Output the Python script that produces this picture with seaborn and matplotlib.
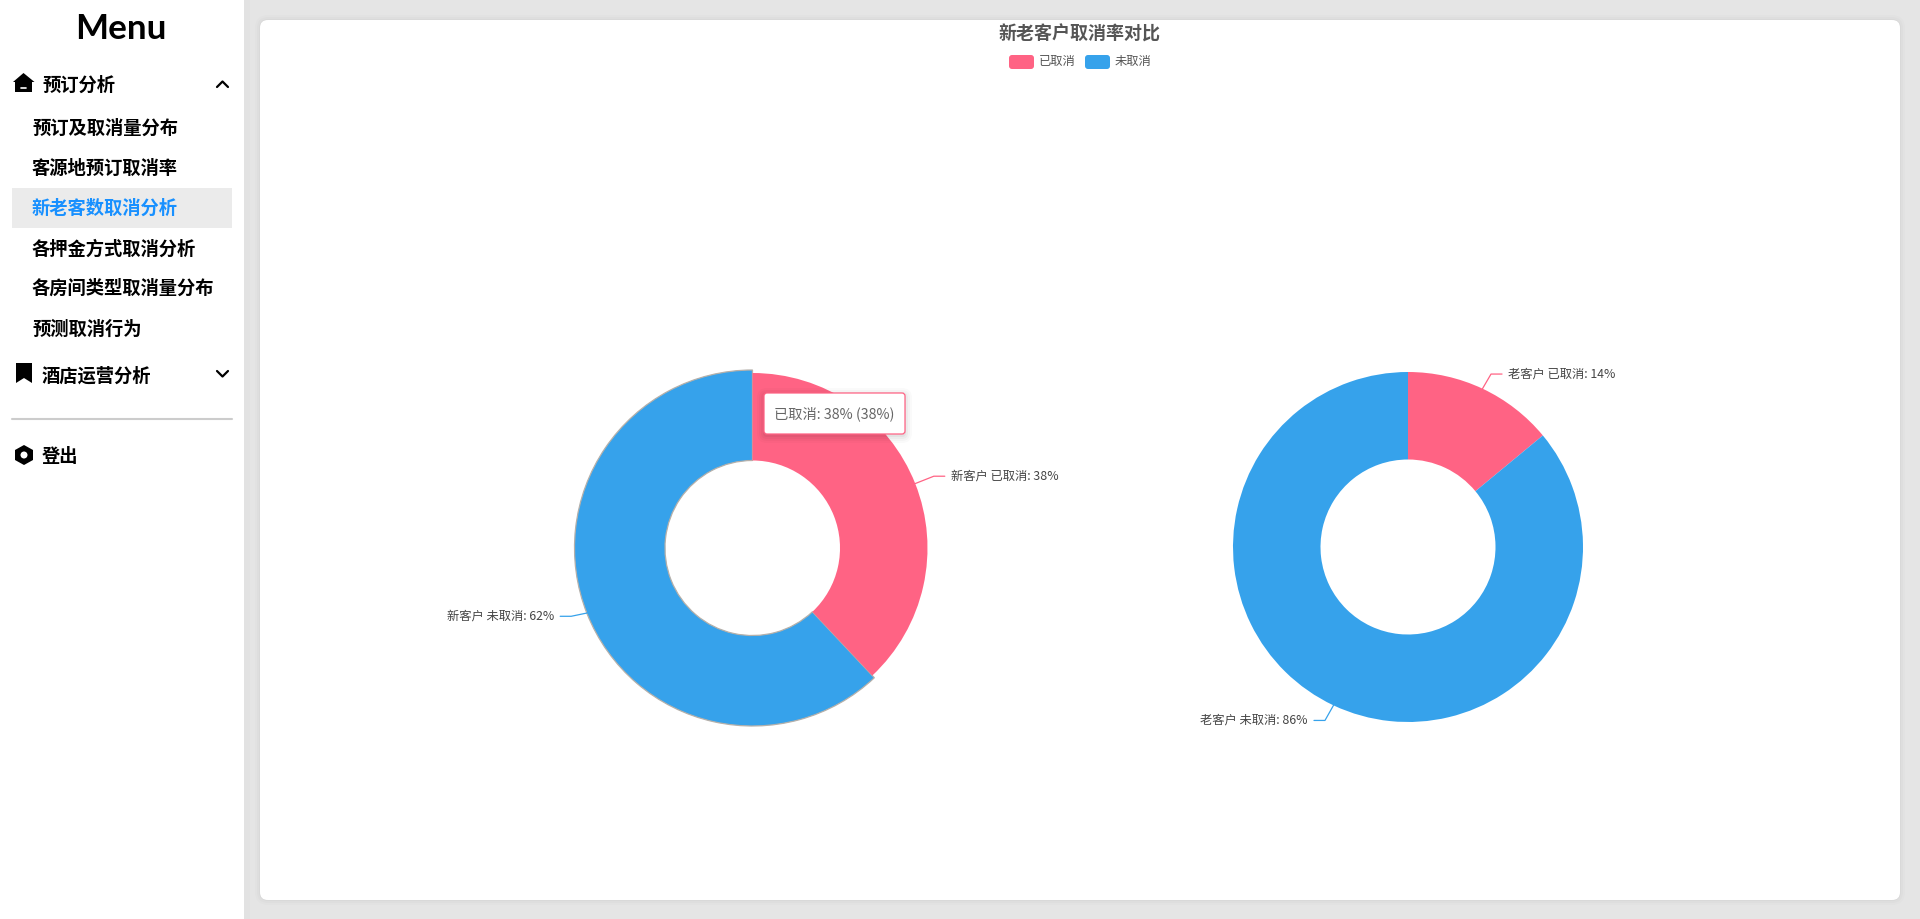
import numpy as np
import pandas as pd
import matplotlib
matplotlib.use("Agg")
import matplotlib.pyplot as plt
import seaborn as sns
from matplotlib.patches import FancyBboxPatch, Polygon, Rectangle, Circle

# 数据
statuses = ["已取消", "未取消"]
new_customer = [38, 62]
old_customer = [14, 86]
groups = ["新客户", "老客户"]
chart_title = "新老客户取消率对比"
tooltip_text = "已取消: 38% (38%)"
menu_title = "Menu"
sub_items = ["预订及取消量分布", "客源地预订取消率", "新老客数取消分析",
             "各押金方式取消分析", "各房间类型取消量分布", "预测取消行为"]
top_items = ["预订分析", "酒店运营分析", "登出"]

sns.set_theme(style="white")
plt.rcParams['font.family'] = ['Noto Sans CJK SC', 'DejaVu Sans']
palette = sns.color_palette(["#ff6384", "#36a2eb"])

W, H = 1920, 919
PX = 0.72  # 1px 对应的字号 (dpi=100)
fig = plt.figure(figsize=(W / 100, H / 100), dpi=100, facecolor="#e5e5e5")

# 背景层：像素坐标
bg = fig.add_axes([0, 0, 1, 1], zorder=0)
bg.set_xlim(0, W)
bg.set_ylim(H, 0)
bg.axis("off")

bg.add_patch(Rectangle((0, 0), 244, H, fc="white", ec="none"))
bg.add_patch(Rectangle((244, 0), 6, H, fc="#e2e2e2", ec="none"))
for grow, a in [(5, 0.012), (3, 0.015), (1, 0.02)]:
    bg.add_patch(FancyBboxPatch((260 - grow, 20 - grow), 1640 + 2 * grow, 880 + 2 * grow,
                                boxstyle=f"round,pad=0,rounding_size={8 + grow}",
                                fc="black", ec="none", alpha=a))
bg.add_patch(FancyBboxPatch((260, 20), 1640, 880, boxstyle="round,pad=0,rounding_size=8",
                            fc="white", ec="none"))

# 侧边栏
bg.text(121, 29, menu_title, family="Lato", weight="bold", fontsize=35 * PX,
        color="black", ha="center", va="center")
bg.add_patch(Rectangle((12, 188), 220, 40, fc="#ebebeb", ec="none"))
sub_y = [128, 168, 208, 249, 288, 329]
for i, (label, y) in enumerate(zip(sub_items, sub_y)):
    bg.text(32, y, label, fontsize=18.3 * PX, weight="bold", va="center",
            color="#1890ff" if i == 2 else "black")
for label, y in zip(top_items, [85, 376, 457]):
    bg.text(42, y, label, fontsize=18.3 * PX, weight="bold", va="center", color="black")
bg.plot([12, 232], [419, 419], color="#cccccc", lw=1.5)

# 图标
bg.add_patch(Polygon([(23.5, 73), (34.5, 82), (32, 82), (32, 92), (15, 92), (15, 82), (13, 82)],
                     fc="black", ec="none"))
bg.plot([21, 26], [87.5, 87.5], color="white", lw=1.2)
bg.add_patch(Polygon([(16, 363), (32, 363), (32, 383), (24, 378), (16, 383)], fc="black", ec="none"))
bg.add_patch(Polygon([(24, 445), (33, 450), (33, 460), (24, 465), (15, 460), (15, 450)],
                     fc="black", ec="none"))
bg.add_patch(Circle((24, 455), 3.5, fc="white", ec="none"))
bg.plot([217, 222.5, 228], [87, 81.5, 87], color="black", lw=1.6)
bg.plot([217, 222.5, 228], [371, 376.5, 371], color="black", lw=1.6)

# 标题与图例
bg.text(1080, 34, chart_title, fontsize=18 * PX, weight="bold", color="#555555",
        ha="center", va="center")
for x0, label, c in zip([1009, 1085], statuses, palette):
    bg.add_patch(FancyBboxPatch((x0, 55), 25, 14, boxstyle="round,pad=0,rounding_size=3",
                                fc=c, ec="none"))
    bg.text(x0 + 30, 61.5, label, fontsize=12.3 * PX, color="#555555", va="center")


def donut(cx, cy, values, group, nudges, hover=False):
    R, r = 175.0, 87.5
    # 每个坐标轴单位 = R 像素
    ax = fig.add_axes([(cx - 1.1 * R) / W, 1 - (cy + 1.1 * R) / H, 2.2 * R / W, 2.2 * R / H], zorder=1)
    wedges, _ = ax.pie(values, colors=palette, startangle=90, counterclock=False,
                       radius=1, wedgeprops=dict(width=0.5, linewidth=0))
    ax.set_xlim(-1.1, 1.1)
    ax.set_ylim(-1.1, 1.1)
    if hover:
        # 鼠标悬停的扇区略大，并带阴影边
        wedges[1].set_radius(178 / R)
        wedges[1].set_width((178 - r) / R)
        wedges[1].set_edgecolor("#b5b0aa")
        wedges[1].set_linewidth(0.9)
        wedges[1].set_zorder(0)
        wedges[0].set_zorder(2)
    # 引线和标签
    cum = 0
    for v, status, c, dy in zip(values, statuses, palette, nudges):
        mid = np.deg2rad((cum + v / 2) * 3.6)
        cum += v
        sx, cs = np.sin(mid), np.cos(mid)
        p0 = (cx + R * sx, cy - R * cs)
        p1 = (cx + (R + 20) * sx, cy - (R + 20) * cs + dy)
        side = 1 if sx > 0 else -1
        p2 = (p1[0] + side * 11, p1[1])
        top.plot([p0[0], p1[0], p2[0]], [p0[1], p1[1], p2[1]], color=c, lw=0.9, solid_joinstyle="round")
        top.text(p2[0] + side * 6, p2[1], f"{group} {status}: {v}%", fontsize=12.3 * PX,
                 color="#444444", va="center", ha="left" if side > 0 else "right")
    return ax


# 顶层：引线、标签、提示框
top = fig.add_axes([0, 0, 1, 1], zorder=2)
top.set_xlim(0, W)
top.set_ylim(H, 0)
top.axis("off")

donut(752.5, 548, new_customer, groups[0], [0, -3.5], hover=True)
donut(1408, 547, old_customer, groups[1], [3.5, -3])

# 提示框
for grow, a in [(7, 0.02), (5, 0.025), (3, 0.03), (1, 0.04)]:
    top.add_patch(FancyBboxPatch((764 - grow, 393 - grow + 2), 141 + 2 * grow, 41 + 2 * grow,
                                 boxstyle=f"round,pad=0,rounding_size={3 + grow}",
                                 fc="black", ec="none", alpha=a))
top.add_patch(FancyBboxPatch((764, 393), 141, 41, boxstyle="round,pad=0,rounding_size=3",
                             fc="white", ec=palette[0], lw=0.9))
top.text(834.5, 414, tooltip_text, fontsize=14.3 * PX, color="#666666", ha="center", va="center")

fig.savefig("out.png", dpi=100, facecolor=fig.get_facecolor())
